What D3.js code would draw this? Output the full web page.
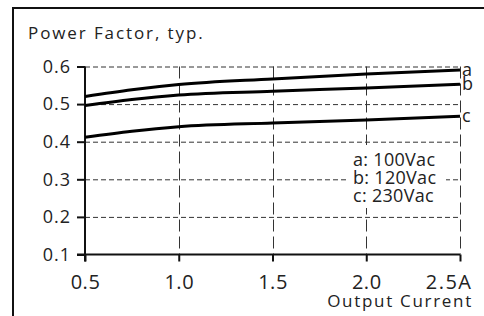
<!DOCTYPE html>
<html>
<head>
  <meta charset="UTF-8" />
  <title>power factor</title>
  <script src="https://cdn.jsdelivr.net/npm/d3@7/dist/d3.min.js"></script>
  <style>
    body { margin: 0; background: #fff; }
    text { font-family: "Open Sans", sans-serif; fill: #222; }
  </style>
</head>
<body>
  <svg width="484" height="316"></svg>
  <script>
    // data
    var current = [0.5, 0.75, 1.0, 1.5, 2.0, 2.5];
    var pfA = [0.520, 0.538, 0.552, 0.567, 0.580, 0.591]; // 100Vac
    var pfB = [0.496, 0.512, 0.524, 0.534, 0.543, 0.553]; // 120Vac
    var pfC = [0.412, 0.428, 0.440, 0.450, 0.458, 0.468]; // 230Vac
    var seriesNames = ["a", "b", "c"];
    var legendLabels = ["a: 100Vac", "b: 120Vac", "c: 230Vac"];
    var xTicks = [0.5, 1.0, 1.5, 2.0, 2.5];
    var yTicks = [0.1, 0.2, 0.3, 0.4, 0.5, 0.6];

    var svg = d3.select("svg");
    var marge = { top: 66.5, left: 85, right: 24, bottom: 61.5 };
    var W = 484, H = 316;

    var x = d3.scaleLinear().domain([0.5, 2.5]).range([marge.left, W - marge.right]);
    var y = d3.scaleLinear().domain([0.1, 0.6]).range([H - marge.bottom, marge.top]);

    //外框
    svg.append("path")
      .attr("d", "M13,316 L13,8 L484,8")
      .attr("fill", "none")
      .attr("stroke", "#111")
      .attr("stroke-width", 2);

    //网格
    var grid = svg.append("g").attr("stroke", "#333").attr("stroke-width", 1).attr("fill", "none");
    grid.selectAll("line.h")
      .data(yTicks.filter(function (d) { return d > 0.1; }))
      .enter().append("line")
      .attr("x1", x(0.5)).attr("x2", x(2.5))
      .attr("y1", function (d) { return y(d) + 0.5; })
      .attr("y2", function (d) { return y(d) + 0.5; })
      .attr("stroke-dasharray", "5,3");
    grid.selectAll("line.v")
      .data(xTicks.slice(1))
      .enter().append("line")
      .attr("x1", function (d) { return Math.round(x(d)) + 0.5; })
      .attr("x2", function (d) { return Math.round(x(d)) + 0.5; })
      .attr("y1", y(0.6)).attr("y2", y(0.1))
      .attr("stroke-dasharray", "12,5");

    //图例底
    svg.append("rect")
      .attr("x", 349).attr("y", 145)
      .attr("width", 97).attr("height", 63)
      .attr("fill", "#fff");

    //坐标轴
    var xAxis = svg.append("g")
      .attr("transform", "translate(0," + y(0.1) + ")")
      .call(d3.axisBottom(x).tickValues(xTicks).tickSize(7).tickPadding(13)
        .tickFormat(function (d) { return d === 2.5 ? "2.5A" : d3.format(".1f")(d); }));
    var yAxis = svg.append("g")
      .attr("transform", "translate(" + x(0.5) + ",0)")
      .call(d3.axisLeft(y).tickValues(yTicks).tickSize(8).tickPadding(6)
        .tickFormat(d3.format(".1f")));

    [xAxis, yAxis].forEach(function (ax) {
      ax.select(".domain").remove();
      ax.selectAll("line").attr("stroke", "#111").attr("stroke-width", 2);
      ax.selectAll("text").attr("fill", "#222")
        .style("font-family", "'Open Sans', sans-serif");
    });
    xAxis.selectAll("text").attr("font-size", 20).style("letter-spacing", "0.5px");
    yAxis.selectAll("text").attr("font-size", 18).style("letter-spacing", "1px");
    // "2.5A" sits right of its tick
    xAxis.selectAll(".tick text").filter(function (d) { return d === 2.5; })
      .attr("text-anchor", "end").attr("x", 12).style("letter-spacing", "1.5px");

    //轴线
    svg.append("line")
      .attr("x1", x(0.5)).attr("x2", x(0.5))
      .attr("y1", y(0.6)).attr("y2", y(0.1) + 7)
      .attr("stroke", "#111").attr("stroke-width", 2);
    svg.append("line")
      .attr("x1", x(0.5) - 8).attr("x2", x(2.5))
      .attr("y1", y(0.1)).attr("y2", y(0.1))
      .attr("stroke", "#111").attr("stroke-width", 2);

    //曲线
    var line = d3.line()
      .x(function (d, i) { return x(current[i]); })
      .y(function (d) { return y(d); })
      .curve(d3.curveMonotoneX);
    var allSeries = [pfA, pfB, pfC];
    svg.selectAll("path.curve")
      .data(allSeries)
      .enter().append("path")
      .attr("class", "curve")
      .attr("d", line)
      .attr("fill", "none")
      .attr("stroke", "#000")
      .attr("stroke-width", 3);

    //曲线末端标记
    svg.selectAll("text.end")
      .data(allSeries)
      .enter().append("text")
      .attr("x", x(2.5) + 2)
      .attr("y", function (d) { return y(d[d.length - 1]) + 6; })
      .attr("font-size", 18)
      .text(function (d, i) { return seriesNames[i]; });

    //图例
    svg.selectAll("text.legend")
      .data(legendLabels)
      .enter().append("text")
      .attr("x", 353)
      .attr("y", function (d, i) { return 166 + i * 18; })
      .attr("font-size", 18)
      .style("letter-spacing", "0.3px")
      .text(function (d) { return d; });

    //标题
    svg.append("text")
      .attr("x", 28).attr("y", 39)
      .attr("font-size", 17)
      .style("letter-spacing", "1.9px")
      .text("Power Factor, typ.");
    svg.append("text")
      .attr("x", 473).attr("y", 307)
      .attr("text-anchor", "end")
      .attr("font-size", 17)
      .style("letter-spacing", "1.7px")
      .text("Output Current");
  </script>
</body>
</html>
